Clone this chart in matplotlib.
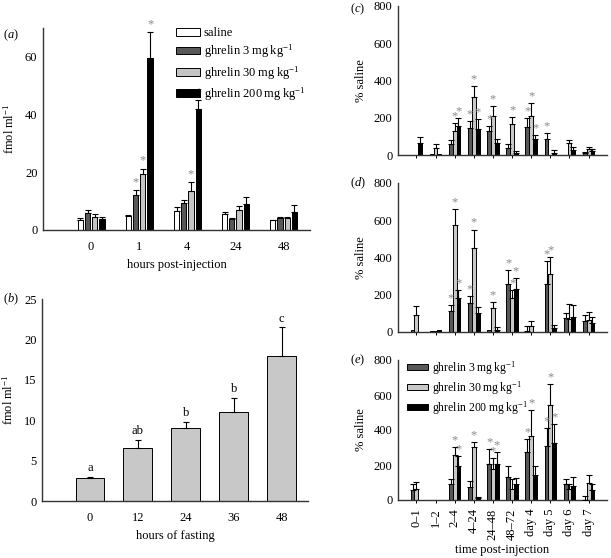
import numpy as np
import matplotlib
matplotlib.use("Agg")
import matplotlib.pyplot as plt
from matplotlib.patches import Patch

plt.rcParams['font.family'] = ['Liberation Serif', 'DejaVu Serif']
plt.rcParams['mathtext.fontset'] = 'custom'
plt.rcParams['mathtext.rm'] = 'Liberation Serif'
plt.rcParams['mathtext.it'] = 'Liberation Serif:italic'
plt.rcParams['font.size'] = 9

TS = '\u2009'  # thin space, as in the printed units

# ---- panel (a): plasma ghrelin after injection ----
a_hours = ['0', '1', '4', '24', '48']
a_series = ['saline',
            'ghrelin 3' + TS + 'mg' + TS + 'kg$^{-1}$',
            'ghrelin 30' + TS + 'mg' + TS + 'kg$^{-1}$',
            'ghrelin 200' + TS + 'mg' + TS + 'kg$^{-1}$']
a_saline = [3.5, 5.0, 6.7, 5.7, 3.3]
a_saline_err = [0.7, 0.2, 1.3, 0.4, 0.3]
a_3 = [6.0, 12.3, 9.3, 3.7, 4.0]
a_3_err = [1.0, 1.7, 1.0, 0.6, 0.6]
a_30 = [4.5, 19.5, 13.5, 7.0, 4.0]
a_30_err = [1.0, 1.8, 3.0, 1.2, 0.4]
a_200 = [3.8, 59.5, 42.0, 9.0, 6.3]
a_200_err = [0.8, 9.0, 3.0, 2.3, 2.5]
a_star = [[], [1, 2, 3], [2, 3], [], []]  # series index with * per time point

# ---- panel (b): fasting ----
b_hours = ['0', '12', '24', '36', '48']
b_vals = [2.8, 6.6, 9.0, 11.0, 18.0]
b_err = [0.2, 1.0, 0.8, 1.8, 3.5]
b_letters = ['a', 'ab', 'b', 'b', 'c']

# ---- panels (c)-(e): % saline ----
periods = ['0–1', '1–2', '2–4', '4–24', '24–48', '48–72', 'day 4', 'day 5', 'day 6', 'day 7']

c_3 = [0, 3, 61, 147, 129, 39, 152, 88, 0, 13]
c_3_err = [0, 0, 19, 36, 27, 18, 47, 28, 0, 5]
c_30 = [0, 39, 131, 313, 208, 166, 211, 0, 63, 30]
c_30_err = [0, 18, 39, 57, 55, 36, 70, 0, 17, 15]
c_200 = [63, 3, 156, 141, 63, 13, 84, 13, 29, 23]
c_200_err = [34, 0, 43, 52, 21, 8, 25, 14, 16, 9]
c_star = [[], [], [1, 2], [0, 1, 2], [0, 1], [1], [0, 1, 2], [0], [], []]

d_3 = [10, 4, 115, 156, 9, 260, 3, 260, 75, 57]
d_3_err = [0, 0, 32, 39, 0, 75, 27, 120, 27, 32]
d_30 = [93, 7, 575, 451, 129, 183, 30, 313, 72, 63]
d_30_err = [45, 0, 85, 99, 30, 44, 30, 88, 78, 43]
d_200 = [0, 10, 183, 102, 13, 233, 0, 21, 79, 48]
d_200_err = [0, 0, 44, 32, 14, 59, 0, 15, 64, 31]
d_star = [[], [], [0, 1, 2], [0, 1], [1], [0, 1, 2], [], [0, 1], [], []]

e_3 = [57, 0, 90, 72, 208, 133, 274, 310, 93, 0]
e_3_err = [33, 0, 28, 37, 82, 61, 73, 100, 27, 23]
e_30 = [63, 0, 257, 303, 177, 63, 366, 543, 61, 99]
e_30_err = [38, 0, 44, 27, 61, 55, 146, 118, 29, 42]
e_200 = [0, 0, 192, 10, 204, 90, 143, 328, 80, 59]
e_200_err = [0, 0, 59, 7, 70, 38, 51, 104, 50, 31]
e_star = [[], [], [1, 2], [1], [0, 1, 2], [], [0, 1], [0, 1, 2], [], []]

W, H = 611, 558
fig = plt.figure(figsize=(W / 100, H / 100), dpi=100)

def box(l, t, r, b):
    return [l / W, 1 - b / H, (r - l) / W, (b - t) / H]

colors4 = ['white', '#585858', '#c4c4c4', 'black']
colors3 = ['#585858', '#c8c8c8', 'black']
star_col = '#8a8a8a'

def style(ax):
    for s in ['top', 'right']:
        ax.spines[s].set_visible(False)
    for s in ['left', 'bottom']:
        ax.spines[s].set_linewidth(1.0)
        ax.spines[s].set_color('#333333')

def bars(ax, x, vals, errs, width, color):
    ax.bar(x, vals, width, color=color, edgecolor='black', linewidth=0.7, zorder=2)
    errs = np.asarray(errs, float)
    m = errs > 0
    ax.errorbar(np.asarray(x)[m], np.asarray(vals, float)[m],
                yerr=[np.zeros(m.sum()), errs[m]], fmt='none', ecolor='black',
                elinewidth=0.8, capsize=2.5, capthick=0.8, zorder=3)

# (a)
ax = fig.add_axes(box(43, 28, 310, 230))
style(ax)
xa = np.arange(1, 6)
offs4 = [-0.225, -0.075, 0.075, 0.225]
a_vals = [a_saline, a_3, a_30, a_200]
a_errs = [a_saline_err, a_3_err, a_30_err, a_200_err]
for k in range(4):
    bars(ax, xa + offs4[k], a_vals[k], a_errs[k], 0.11, colors4[k])
for i, st in enumerate(a_star):
    for k in st:
        ax.text(xa[i] + offs4[k], a_vals[k][i] + a_errs[k][i] + 0.6, '*',
                ha='center', va='bottom', color=star_col, fontsize=9)
ax.set_xlim(0, 5.55)
ax.set_ylim(0, 70)
ax.set_yticks([0, 20, 40, 60])
ax.set_xticks(xa)
ax.set_xticklabels(a_hours)
ax.tick_params(axis='x', length=0, pad=8)
ax.tick_params(axis='y', length=0, pad=4)
ax.set_xlabel('hours post-injection', labelpad=4)
ax.set_ylabel('fmol' + TS + 'ml$^{-1}$', labelpad=6)
handles = [Patch(facecolor=c, edgecolor='black', linewidth=0.7) for c in colors4]
ax.legend(handles, a_series, loc='upper left', bbox_to_anchor=(0.48, 1.03), frameon=False,
          handlelength=1.9, handleheight=0.6, handletextpad=0.3, labelspacing=0.3,
          borderaxespad=0)
fig.text(3 / W, 1 - 35 / H, '($a$)', ha='left', va='center')

# (b)
ax = fig.add_axes(box(42, 299, 308, 501))
style(ax)
xb = np.arange(1, 6)
bars(ax, xb, b_vals, b_err, 0.6, '#c8c8c8')
for i in range(5):
    ax.text(xb[i], b_vals[i] + b_err[i] + 0.3, b_letters[i], ha='center', va='bottom')
ax.set_xlim(0, 5.55)
ax.set_ylim(0, 25)
ax.set_yticks([0, 5, 10, 15, 20, 25])
ax.set_xticks(xb)
ax.set_xticklabels(b_hours)
ax.tick_params(axis='x', length=0, pad=8)
ax.tick_params(axis='y', length=0, pad=4)
ax.set_xlabel('hours of fasting', labelpad=4)
ax.set_ylabel('fmol' + TS + 'ml$^{-1}$', labelpad=6)
fig.text(3 / W, 1 - 299 / H, '($b$)', ha='left', va='center')

# (c)-(e)
panels = [
    ('c', (398, 6, 607, 155), [c_3, c_30, c_200], [c_3_err, c_30_err, c_200_err], c_star),
    ('d', (398, 183, 607, 332), [d_3, d_30, d_200], [d_3_err, d_30_err, d_200_err], d_star),
    ('e', (398, 360, 607, 500), [e_3, e_30, e_200], [e_3_err, e_30_err, e_200_err], e_star),
]
xp = np.arange(1, 11)
offs3 = [-0.2, 0.0, 0.2]
for name, bb, vals, errs, stars in panels:
    ax = fig.add_axes(box(*bb))
    style(ax)
    for k in range(3):
        bars(ax, xp + offs3[k], vals[k], errs[k], 0.2, colors3[k])
    for i, st in enumerate(stars):
        for k in st:
            ax.text(xp[i] + offs3[k], vals[k][i] + errs[k][i] + 4, '*',
                    ha='center', va='bottom', color=star_col, fontsize=9)
    ax.set_xlim(0.04, 10.96)
    ax.set_ylim(0, 800)
    ax.set_yticks([0, 200, 400, 600, 800])
    ax.set_xticks(xp)
    ax.tick_params(axis='x', length=2.5, width=0.7)
    ax.tick_params(axis='y', length=0, pad=4)
    ax.set_ylabel('% saline', labelpad=5)
    fig.text(350 / W, 1 - max(bb[1], 9) / H, '($%s$)' % name, ha='left', va='center')
    if name == 'e':
        ax.set_xticklabels(periods, rotation=90)
        ax.set_xlabel('time post-injection', labelpad=3)
        h3 = [Patch(facecolor=c, edgecolor='black', linewidth=0.7) for c in colors3]
        ax.legend(h3, a_series[1:], loc='upper left', bbox_to_anchor=(0.02, 1.04), frameon=False,
                  fontsize=8.5, handlelength=1.8, handleheight=0.5, handletextpad=0.3,
                  labelspacing=0.2, borderaxespad=0)
    else:
        ax.set_xticklabels([])

fig.savefig('out.png', dpi=100)
